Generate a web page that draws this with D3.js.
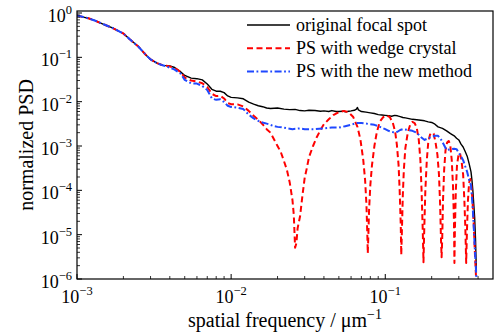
<!DOCTYPE html>
<html><head><meta charset="utf-8">
<script src="https://cdn.jsdelivr.net/npm/d3@7"></script>
<style>
html,body{margin:0;padding:0;background:#fff;}
svg{display:block;font-family:"Liberation Serif","Times New Roman",serif;}
</style></head>
<body><svg id="c" width="496" height="333"></svg>
<script>
// ---- data ----
const lowFreq = [0.001, 0.0011, 0.0012, 0.0013, 0.0015, 0.0017, 0.002, 0.0022, 0.0025, 0.0028, 0.003, 0.0033, 0.0036];
const lowPsd  = [0.88, 0.81, 0.75, 0.68, 0.55, 0.46, 0.345, 0.255, 0.175, 0.113, 0.09, 0.074, 0.066];

const blackFreq = [0.0038,0.004,0.0043,0.0047,0.005,0.0055,0.006,0.0065,0.007,0.0075,0.008,0.0085,0.009,0.0095,0.01,0.011,0.012,0.013,0.014,0.015,0.016,0.017,0.018,0.019,0.02,0.022,0.024,0.026,0.028,0.03,0.032,0.035,0.038,0.04,0.043,0.045,0.048,0.05,0.053,0.055,0.058,0.06,0.063,0.065,0.066,0.067,0.07,0.075,0.08,0.085,0.09,0.095,0.1,0.105,0.11,0.115,0.12,0.125,0.13,0.135,0.14,0.15,0.16,0.17,0.18,0.19,0.2,0.21,0.22,0.235,0.25,0.265,0.28,0.29,0.3,0.31,0.32,0.33,0.34,0.35,0.36,0.365,0.37,0.375,0.38,0.385,0.39];
const blackPsd  = [0.065,0.064,0.059,0.047,0.039,0.034,0.033,0.031,0.025,0.019,0.0172,0.0172,0.016,0.0135,0.0125,0.0122,0.0116,0.0098,0.0088,0.0081,0.0077,0.0072,0.0070,0.0071,0.0072,0.0068,0.0066,0.0067,0.0063,0.0062,0.0064,0.0063,0.0061,0.0062,0.0060,0.0063,0.0060,0.0060,0.0061,0.0059,0.0061,0.0062,0.0064,0.0068,0.0074,0.0065,0.0060,0.0058,0.0056,0.0054,0.0051,0.0050,0.0049,0.0048,0.0047,0.0049,0.0048,0.0046,0.0044,0.0043,0.0042,0.0040,0.0039,0.0038,0.0037,0.0035,0.0034,0.0031,0.0027,0.0025,0.0022,0.0019,0.0017,0.0015,0.00137,0.0011,0.00095,0.00075,0.00059,0.0004,0.00026,0.00017,0.0001,5e-5,2.5e-5,8e-6,1.5e-6];

const redFreq = [0.0038,0.004,0.0043,0.0047,0.005,0.0055,0.006,0.0065,0.007,0.0075,0.008,0.0085,0.009,0.0095,0.01,0.011,0.012,0.013,0.014,0.015,0.016,0.017,0.018,0.019,0.02,0.021,0.022,0.023,0.024,0.025,0.0255,0.026,0.0265,0.027,0.028,0.029,0.03,0.031,0.032,0.034,0.036,0.038,0.04,0.043,0.046,0.05,0.054,0.058,0.062,0.066,0.069,0.072,0.074,0.0755,0.0765,0.077,0.0775,0.0785,0.08,0.082,0.085,0.088,0.092,0.097,0.102,0.107,0.112,0.116,0.119,0.122,0.124,0.126,0.127,0.128,0.13,0.132,0.135,0.14,0.145,0.15,0.155,0.16,0.165,0.169,0.172,0.175,0.177,0.179,0.182,0.186,0.19,0.195,0.2,0.206,0.212,0.218,0.223,0.227,0.23,0.232,0.234,0.237,0.241,0.246,0.252,0.258,0.264,0.27,0.275,0.279,0.281,0.283,0.287,0.292,0.298,0.305,0.312,0.32,0.326,0.331,0.335,0.339,0.344,0.35,0.356,0.362,0.368,0.375,0.382,0.388];
const redPsd  = [0.065,0.062,0.058,0.047,0.035,0.030,0.0285,0.026,0.0215,0.015,0.0134,0.0136,0.0118,0.0093,0.0088,0.0087,0.0078,0.0062,0.0048,0.0039,0.0031,0.0024,0.0020,0.0014,0.001,7.3e-4,4.6e-4,2.9e-4,1.5e-4,6e-5,2.8e-5,5.1e-6,6.4e-6,1.4e-5,2.6e-5,7.5e-5,1.9e-4,3.2e-4,5.6e-4,0.001,0.0016,0.0023,0.0031,0.0040,0.0050,0.0058,0.0062,0.0057,0.0045,0.0027,0.0014,4.8e-4,1.7e-4,4.7e-5,9.7e-6,3.8e-6,7.5e-6,3.6e-5,1.3e-4,3.7e-4,0.001,0.002,0.0035,0.0045,0.0049,0.0045,0.0033,0.0021,0.00105,3.7e-4,1e-4,1.7e-5,3.5e-6,9.7e-6,7.9e-5,2.9e-4,9e-4,0.002,0.003,0.0035,0.0033,0.0026,0.00137,4.8e-4,1e-4,1.3e-5,2.4e-6,1.3e-5,1e-4,4.8e-4,0.0012,0.0018,0.002,0.0019,0.0012,6.3e-4,2.3e-4,4.7e-5,7.5e-6,3.1e-6,7.5e-6,6e-5,2.9e-4,8e-4,0.0012,0.0013,0.00105,4.8e-4,1.3e-4,2.1e-5,2.3e-6,1.3e-5,1e-4,3.7e-4,6e-4,7e-4,4.8e-4,2.3e-4,6e-5,1.3e-5,2.3e-6,1.3e-5,6e-5,1.5e-4,1.8e-4,1.3e-4,6e-5,1.7e-5,3.5e-6,1.1e-6];

const blueFreq = [0.0038,0.004,0.0043,0.0047,0.005,0.0055,0.006,0.0065,0.007,0.0075,0.008,0.0085,0.009,0.0095,0.01,0.011,0.012,0.013,0.014,0.015,0.016,0.017,0.018,0.019,0.02,0.022,0.025,0.028,0.03,0.035,0.04,0.045,0.05,0.055,0.06,0.065,0.07,0.075,0.08,0.085,0.09,0.095,0.1,0.105,0.11,0.115,0.12,0.125,0.13,0.14,0.15,0.16,0.17,0.18,0.19,0.2,0.21,0.22,0.23,0.24,0.25,0.26,0.27,0.28,0.29,0.3,0.31,0.32,0.33,0.34,0.35,0.36,0.365,0.37,0.375,0.38,0.385,0.39];
const bluePsd  = [0.063,0.058,0.053,0.043,0.031,0.026,0.0256,0.0225,0.0184,0.0118,0.011,0.0113,0.0098,0.0081,0.0076,0.0073,0.0068,0.0051,0.0042,0.0037,0.0034,0.0032,0.0030,0.0028,0.0027,0.0026,0.0024,0.0025,0.0024,0.0024,0.0025,0.0026,0.0026,0.0028,0.0030,0.0033,0.0033,0.0032,0.0031,0.0030,0.0028,0.0026,0.0024,0.0022,0.0021,0.0020,0.0021,0.0023,0.0024,0.0023,0.0022,0.0020,0.0016,0.00137,0.0015,0.0016,0.0017,0.0017,0.0014,0.00107,8.1e-4,8.3e-4,8.5e-4,8.7e-4,8.5e-4,7e-4,5.8e-4,4.8e-4,3.5e-4,2.6e-4,1.7e-4,1.3e-4,7e-5,3.6e-5,1.5e-5,5.9e-6,2.5e-6,1.1e-6];

const seriesNames = ["original focal spot", "PS with wedge crystal", "PS with the new method"];
const yTickExps = [0, -1, -2, -3, -4, -5, -6];
const xTickExps = [-3, -2, -1];
const xLabel = "spatial frequency / \u03bcm";
const yLabel = "normalized PSD";

// ---- layout ----
const W = 496, H = 333;
const L = 77, R = 493, T = 11, B = 279;
const svg = d3.select("#c");
const x = d3.scaleLog().domain([1e-3, 0.5]).range([L, R]);
const y = d3.scaleLog().domain([1e-6, 1.11]).range([B, T]);

const zip = (f, v) => f.map((d, i) => [d, v[i]]);
const series = [
  {name: seriesNames[0], data: zip(lowFreq.concat(blackFreq), lowPsd.concat(blackPsd)), color: "#000000", width: 1.4, dash: null},
  {name: seriesNames[1], data: zip(lowFreq.concat(redFreq), lowPsd.concat(redPsd)), color: "#ff0000", width: 2, dash: "6,3.5"},
  {name: seriesNames[2], data: zip(lowFreq.concat(blueFreq), lowPsd.concat(bluePsd)), color: "#1f48ff", width: 2, dash: "7,2.5,1.8,2.5"}
];

svg.append("clipPath").attr("id", "clip").append("rect")
  .attr("x", L).attr("y", T).attr("width", R - L).attr("height", B - T);

const line = d3.line().x(d => x(d[0])).y(d => y(Math.max(d[1], 1e-7)));
const g = svg.append("g").attr("clip-path", "url(#clip)");
series.forEach(s => {
  g.append("path").datum(s.data).attr("d", line)
    .attr("fill", "none").attr("stroke", s.color).attr("stroke-width", s.width)
    .attr("stroke-dasharray", s.dash).attr("stroke-linejoin", "round");
});

// ---- axes ----
const yTicksMajor = yTickExps.map(e => Math.pow(10, e));
const yTicksMinor = [];
for (let e = -6; e < 0; e++) for (let k = 2; k <= 9; k++) yTicksMinor.push(k * Math.pow(10, e));
const xTicksMajor = xTickExps.map(e => Math.pow(10, e));
const xTicksMinor = [];
for (let e = -3; e < 0; e++) for (let k = 2; k <= 9; k++) { const v = k * Math.pow(10, e); if (v < 0.5) xTicksMinor.push(v); }

const ax = svg.append("g").attr("stroke", "#000");
yTicksMajor.forEach(v => ax.append("line").attr("x1", L).attr("x2", L + 5).attr("y1", y(v)).attr("y2", y(v)).attr("stroke-width", 1));
yTicksMinor.forEach(v => ax.append("line").attr("x1", L).attr("x2", L + 3).attr("y1", y(v)).attr("y2", y(v)).attr("stroke-width", 0.8));
xTicksMajor.forEach(v => ax.append("line").attr("x1", x(v)).attr("x2", x(v)).attr("y1", B).attr("y2", B - 5).attr("stroke-width", 1));
xTicksMinor.forEach(v => ax.append("line").attr("x1", x(v)).attr("x2", x(v)).attr("y1", B).attr("y2", B - 3).attr("stroke-width", 0.8));

svg.append("rect").attr("x", L).attr("y", T).attr("width", R - L).attr("height", B - T)
  .attr("fill", "none").attr("stroke", "#000").attr("stroke-width", 1.2);

function powLabel(sel, e) {
  sel.append("tspan").text("10");
  sel.append("tspan").attr("dy", -8).attr("font-size", 12.5).text(e === 0 ? "0" : "\u2212" + Math.abs(e));
}
yTickExps.forEach(e => {
  const t = svg.append("text").attr("x", 72).attr("y", y(Math.pow(10, e)) + 9)
    .attr("text-anchor", "end").attr("font-size", 18).attr("fill", "#000");
  powLabel(t, e);
});
xTickExps.forEach(e => {
  const t = svg.append("text").attr("x", x(Math.pow(10, e))).attr("y", 303)
    .attr("text-anchor", "middle").attr("font-size", 18).attr("fill", "#000");
  powLabel(t, e);
});

const xl = svg.append("text").attr("x", (L + R) / 2).attr("y", 327).attr("text-anchor", "middle")
  .attr("font-size", 20).attr("fill", "#000");
xl.append("tspan").text(xLabel);
xl.append("tspan").attr("dy", -8).attr("font-size", 14).text("\u22121");

svg.append("text").attr("transform", `translate(33,${(T + B) / 2}) rotate(-90)`)
  .attr("text-anchor", "middle").attr("font-size", 20).attr("fill", "#000").text(yLabel);

// ---- legend ----
const lg = svg.append("g");
series.forEach((s, i) => {
  const yy = 25 + i * 23.3;
  lg.append("line").attr("x1", 247).attr("x2", 290).attr("y1", yy).attr("y2", yy)
    .attr("stroke", s.color).attr("stroke-width", s.width).attr("stroke-dasharray", s.dash);
  lg.append("text").attr("x", 296).attr("y", yy + 5.5).attr("font-size", 18).attr("fill", "#000").text(s.name);
});
</script></body></html>
